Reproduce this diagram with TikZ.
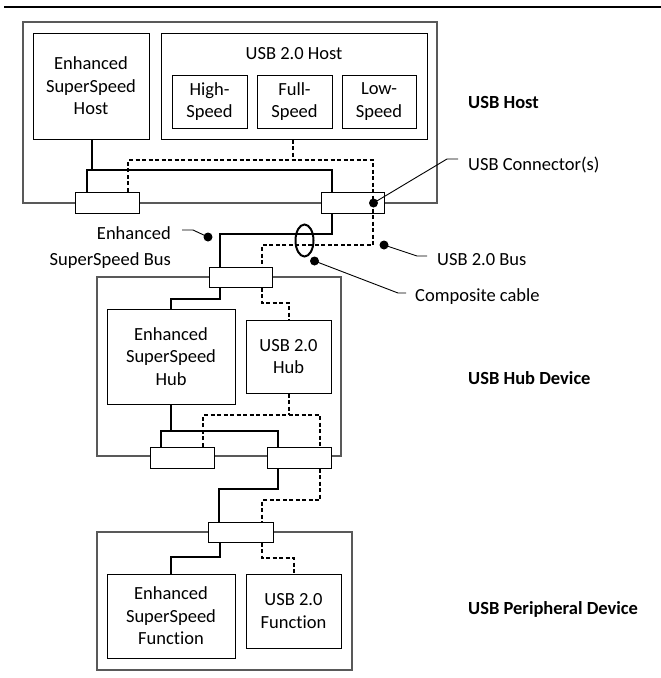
\documentclass[tikz,border=0pt]{standalone}
\usepackage{fontspec}
\setmainfont{Carlito}[Ligatures=NoCommon]
\usetikzlibrary{shapes.geometric}
\definecolor{outergray}{RGB}{89,89,89}
\tikzset{
  every node/.style={font=\fontsize{18.5}{22.6}\selectfont, inner sep=0pt},
  outerbox/.style={draw=outergray, line width=1.3pt},
  innerbox/.style={draw=black, line width=1pt, align=center},
  conn/.style={draw=black, fill=white, line width=1pt},
  ssbus/.style={line width=2.6pt},
  hsbus/.style={line width=2pt, dash pattern=on 4pt off 2.5pt},
  leader/.style={line width=0.9pt},
  dotmark/.style={circle, fill=black, minimum size=9pt, inner sep=0pt},
  lbl/.style={anchor=west},
  sect/.style={anchor=west, font=\fontsize{18.5}{22.6}\selectfont\bfseries},
}
\begin{document}
\begin{tikzpicture}[x=1pt,y=-1pt]
\useasboundingbox (0,0) rectangle (661,678);
\draw[line width=2.5pt] (4,7) -- (661,7);

% outer boxes
\node[outerbox, minimum width=414pt, minimum height=181pt] (host) at (230,112.5) {};
\node[outerbox, minimum width=244pt, minimum height=179pt] (hub) at (219,366.5) {};
\node[outerbox, minimum width=255pt, minimum height=138pt] (per) at (224.5,601) {};

% host internals
\node[innerbox, minimum width=116pt, minimum height=106pt] (esshost) at (91,86) {Enhanced\\SuperSpeed\\Host};
\node[innerbox, minimum width=266pt, minimum height=106pt] (u2host) at (294,86) {};
\node (u2hostlbl) at (294,54) {USB 2.0 Host};
\node[innerbox, minimum width=75pt, minimum height=53pt] (hs) at (209.5,101.5) {High-\\Speed};
\node[innerbox, minimum width=75pt, minimum height=53pt] (fs) at (294.5,101.5) {Full-\\Speed};
\node[innerbox, minimum width=74pt, minimum height=53pt] (ls) at (379,101.5) {Low-\\Speed};

% hub internals
\node[innerbox, minimum width=128pt, minimum height=95pt] (esshub) at (171,356.5) {Enhanced\\SuperSpeed\\Hub};
\node[innerbox, minimum width=85pt, minimum height=73pt] (u2hub) at (288.5,356.5) {USB 2.0\\Hub};

% peripheral internals
\node[innerbox, minimum width=128pt, minimum height=84pt] (essfn) at (171,616) {Enhanced\\SuperSpeed\\Function};
\node[innerbox, minimum width=95pt, minimum height=74pt] (u2fn) at (293.5,611) {USB 2.0\\Function};

% connectors
\node[conn, minimum width=64pt, minimum height=21pt] (hc1) at (107,202.5) {};
\node[conn, minimum width=63pt, minimum height=21pt] (hc2) at (352.5,202.5) {};
\node[conn, minimum width=63pt, minimum height=20pt] (huc) at (240.5,277) {};
\node[conn, minimum width=64pt, minimum height=21pt] (hlc1) at (182,457.5) {};
\node[conn, minimum width=64pt, minimum height=21pt] (hlc2) at (299,457.5) {};
\node[conn, minimum width=65pt, minimum height=20pt] (pc) at (240.5,532) {};

% Enhanced SuperSpeed buses
\draw[ssbus] (92,0 |- esshost.south) -- (92,170);
\draw[ssbus] (87,0 |- hc1.north) -- (87,170) -- (332,170) -- (332,0 |- hc2.north);
\draw[ssbus] (332,0 |- hc2.south) -- (332,234) -- (220,234) -- (220,0 |- huc.north);
\draw[ssbus] (220,0 |- huc.south) -- (220,299) -- (171,299) -- (esshub.north);
\draw[ssbus] (esshub.south) -- (171,431);
\draw[ssbus] (161,0 |- hlc1.north) -- (161,431) -- (278,431) -- (278,0 |- hlc2.north);
\draw[ssbus] (278,0 |- hlc2.south) -- (278,489) -- (219,489) -- (219,0 |- pc.north);
\draw[ssbus] (220,0 |- pc.south) -- (220,557) -- (171,557) -- (essfn.north);

% USB 2.0 buses
\draw[hsbus] (293,0 |- u2host.south) -- (293,160);
\draw[hsbus] (128,0 |- hc1.north) -- (128,160) -- (373,160) -- (373,245) -- (262,245) -- (262,0 |- huc.north);
\draw[hsbus] (262,0 |- huc.south) -- (262,303) -- (289,303) -- (289,0 |- u2hub.north);
\draw[hsbus] (289,0 |- u2hub.south) -- (289,415);
\draw[hsbus] (203,0 |- hlc1.north) -- (203,415) -- (320,415) -- (320,0 |- hlc2.north);
\draw[hsbus] (320,0 |- hlc2.south) -- (320,500) -- (262,500) -- (262,0 |- pc.north);
\draw[hsbus] (262,0 |- pc.south) -- (262,558) -- (294,558) -- (294,0 |- u2fn.north);

% composite cable
\node[draw, ellipse, line width=2pt, minimum width=18pt, minimum height=32pt] (cable) at (304.5,240.5) {};

% callout dots
\node[dotmark] (d1) at (373.5,203) {};
\node[dotmark] (d2) at (384,245) {};
\node[dotmark] (d3) at (314.5,261) {};
\node[dotmark] (d4) at (208,237) {};

% labels
\node[lbl] (lconn) at (468,165) {USB Connector(s)};
\node[lbl] (lbus2) at (437,260) {USB 2.0 Bus};
\node[lbl] (lcomp) at (415,297) {Composite cable};
\node[anchor=east, align=right, font=\fontsize{18.5}{26}\selectfont] (lss) at (171,248) {Enhanced\\SuperSpeed Bus};

\coordinate (b1) at (447,159);
\coordinate (b2) at (417,256);
\coordinate (b3) at (398,293);
\coordinate (b4) at (193,230);
\draw[leader] (d1.center) -- (b1) -- ++(11,0);
\draw[leader] (d2.center) -- (b2) -- ++(10,0);
\draw[leader] (d3.center) -- (b3) -- ++(8,0);
\draw[leader] (d4.center) -- (b4) -- ++(-11,0);

\node[sect] (shost) at (468,102) {USB Host};
\node[sect] (shub) at (468,378) {USB Hub Device};
\node[sect] (sper) at (468,609) {USB Peripheral Device};
\end{tikzpicture}
\end{document}
